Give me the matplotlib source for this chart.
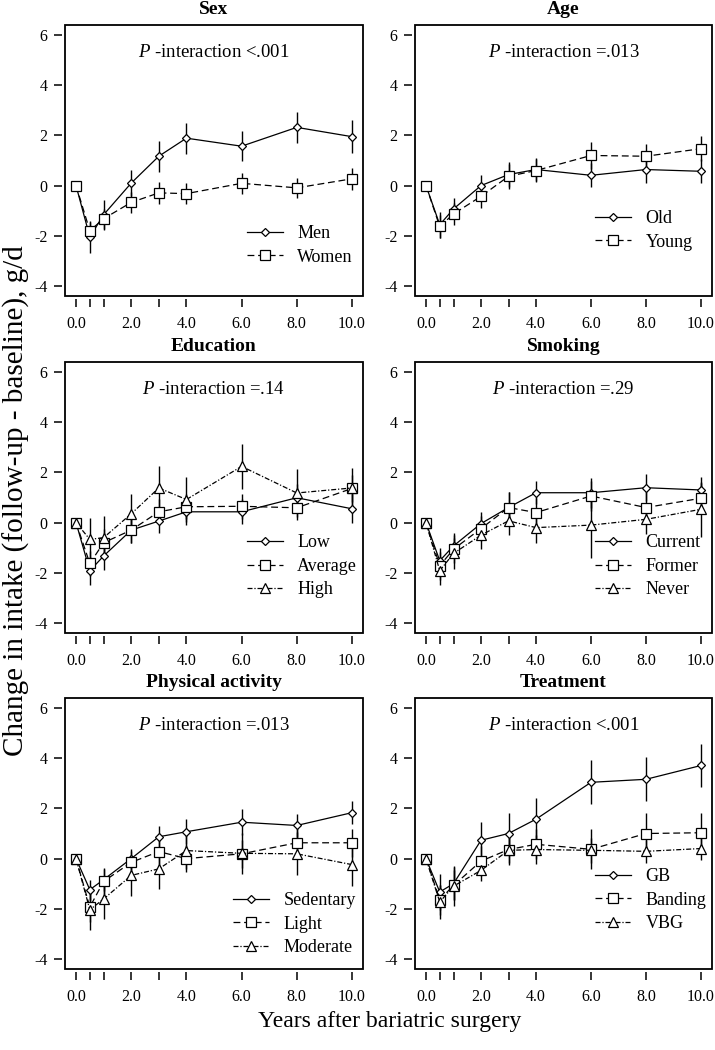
import matplotlib
matplotlib.use("Agg")
import matplotlib.pyplot as plt
from matplotlib.patches import Rectangle

# fonts - Times-like look
plt.rcParams['font.family'] = ['Liberation Serif', 'DejaVu Serif']
plt.rcParams['mathtext.fontset'] = 'custom'
plt.rcParams['mathtext.rm'] = 'Liberation Serif'
plt.rcParams['mathtext.it'] = 'Liberation Serif:italic'

# ---- data ----
years = [0, 0.5, 1, 2, 3, 4, 6, 8, 10]
tick_pos = [0, 0.5, 1, 2, 3, 4, 6, 8, 10]
tick_lab = ['0.0', '', '', '2.0', '', '4.0', '6.0', '8.0', '10.0']

sex_men = [0, -2.05, -1.16, 0.10, 1.17, 1.89, 1.57, 2.32, 1.95]
sex_men_err = [0, 0.64, 0.6, 0.53, 0.62, 0.62, 0.6, 0.63, 0.65]
sex_women = [0, -1.80, -1.32, -0.67, -0.29, -0.32, 0.09, -0.09, 0.27]
sex_women_err = [0, 0.35, 0.4, 0.42, 0.43, 0.42, 0.43, 0.41, 0.43]

age_old = [0, -1.56, -0.93, 0.0, 0.44, 0.64, 0.41, 0.64, 0.57]
age_old_err = [0, 0.52, 0.42, 0.42, 0.5, 0.45, 0.48, 0.52, 0.47]
age_young = [0, -1.63, -1.13, -0.43, 0.37, 0.60, 1.20, 1.17, 1.47]
age_young_err = [0, 0.47, 0.43, 0.45, 0.5, 0.44, 0.55, 0.5, 0.5]

edu_low = [0, -1.92, -1.33, -0.30, 0.06, 0.43, 0.43, 0.99, 0.55]
edu_low_err = [0, 0.55, 0.55, 0.5, 0.46, 0.53, 0.5, 0.55, 0.58]
edu_avg = [0, -1.63, -0.80, -0.30, 0.43, 0.63, 0.65, 0.59, 1.36]
edu_avg_err = [0, 0.5, 0.55, 0.5, 0.5, 0.5, 0.5, 0.5, 0.55]
edu_high = [0, -0.67, -0.60, 0.35, 1.38, 0.92, 2.24, 1.18, 1.38]
edu_high_err = [0, 0.85, 0.85, 0.8, 0.87, 0.9, 0.9, 0.95, 0.8]

smk_current = [0, -1.52, -0.93, -0.04, 0.60, 1.19, 1.19, 1.39, 1.30]
smk_current_err = [0, 0.5, 0.5, 0.45, 0.63, 0.46, 0.6, 0.53, 0.5]
smk_former = [0, -1.72, -1.06, -0.24, 0.60, 0.40, 1.06, 0.60, 0.97]
smk_former_err = [0, 0.55, 0.55, 0.5, 0.6, 0.6, 0.6, 0.6, 0.6]
smk_never = [0, -1.92, -1.23, -0.50, 0.07, -0.20, -0.10, 0.13, 0.53]
smk_never_err = [0, 0.55, 0.6, 0.55, 0.57, 0.6, 1.3, 0.6, 1.1]

pa_sed = [0, -1.24, -0.84, 0.0, 0.87, 1.07, 1.45, 1.32, 1.83]
pa_sed_err = [0, 0.4, 0.45, 0.4, 0.42, 0.49, 0.51, 0.44, 0.46]
pa_light = [0, -1.93, -0.91, -0.15, 0.28, 0.0, 0.19, 0.63, 0.63]
pa_light_err = [0, 0.6, 0.5, 0.45, 0.5, 0.55, 0.55, 0.55, 0.55]
pa_mod = [0, -2.04, -1.61, -0.67, -0.41, 0.32, 0.21, 0.19, -0.24]
pa_mod_err = [0, 0.8, 0.8, 0.81, 0.8, 0.75, 0.81, 0.86, 0.84]

trt_gb = [0, -1.33, -1.0, 0.73, 1.0, 1.57, 3.04, 3.16, 3.71]
trt_gb_err = [0, 0.73, 0.67, 0.74, 0.8, 0.83, 0.87, 0.87, 0.87]
trt_band = [0, -1.64, -1.07, -0.10, 0.36, 0.57, 0.37, 1.00, 1.03]
trt_band_err = [0, 0.6, 0.6, 0.6, 0.6, 0.6, 0.8, 0.83, 0.8]
trt_vbg = [0, -1.73, -1.10, -0.47, 0.33, 0.36, 0.33, 0.29, 0.40]
trt_vbg_err = [0, 0.67, 0.8, 0.42, 0.5, 0.59, 0.5, 0.45, 0.44]

# one entry per panel: title, p-text, groups, legend anchor (x, y of first entry)
panels = [
    ('Sex', '<.001', [('Men', sex_men, sex_men_err), ('Women', sex_women, sex_women_err)], (6.18, -1.96)),
    ('Age', '=.013', [('Old', age_old, age_old_err), ('Young', age_young, age_young_err)], (6.15, -1.36)),
    ('Education', '=.14', [('Low', edu_low, edu_low_err), ('Average', edu_avg, edu_avg_err),
                           ('High', edu_high, edu_high_err)], (6.18, -0.85)),
    ('Smoking', '=.29', [('Current', smk_current, smk_current_err), ('Former', smk_former, smk_former_err),
                         ('Never', smk_never, smk_never_err)], (6.15, -0.85)),
    ('Physical activity', '=.013', [('Sedentary', pa_sed, pa_sed_err), ('Light', pa_light, pa_light_err),
                                    ('Moderate', pa_mod, pa_mod_err)], (5.68, -1.72)),
    ('Treatment', '<.001', [('GB', trt_gb, trt_gb_err), ('Banding', trt_band, trt_band_err),
                            ('VBG', trt_vbg, trt_vbg_err)], (6.15, -0.76)),
]

styles = [('D', 3.6, '-'), ('s', 7.0, (0, (5.5, 3))), ('^', 7.5, (0, (4, 1.5, 1, 1.5)))]

fig = plt.figure(figsize=(7.15, 10.5), dpi=100)
W, H = 715.0, 1050.0
cols = [(65, 363), (415, 712)]
rows = [(25, 296), (362, 633), (698, 969)]

for i, (title, ptxt, groups, leg) in enumerate(panels):
    c0, c1 = cols[i % 2]
    r0, r1 = rows[i // 2]
    ax = fig.add_axes([c0 / W, 1 - r1 / H, (c1 - c0) / W, (r1 - r0) / H])

    for j, (name, vals, errs) in enumerate(groups):
        mk, ms, ls = styles[j]
        ax.errorbar(years, vals, yerr=errs, fmt='none', ecolor='black', elinewidth=1.0, capsize=0, zorder=2)
        ax.plot(years, vals, color='black', lw=0.9, linestyle=ls, marker=mk, markersize=ms,
                mfc='white', mec='black', mew=0.9, label=name, zorder=3)

    ax.set_xlim(-0.4, 10.4)
    ax.set_ylim(-4.4, 6.4)
    ax.set_xticks(tick_pos)
    ax.set_xticklabels(tick_lab)
    ax.set_yticks([-4, -2, 0, 2, 4, 6])
    ax.set_yticklabels(['-4', '-2', '0', '2', '4', '6'])
    for s in ax.spines.values():
        s.set_visible(False)
    ax.spines['bottom'].set_position(('outward', 2))
    ax.spines['left'].set_position(('outward', 2))
    ax.add_patch(Rectangle((0, 0), 1, 1, transform=ax.transAxes, fill=False, lw=1.3,
                           ec='black', clip_on=False, zorder=5))
    ax.tick_params(direction='out', length=5.5, width=1.1, labelsize=11.5)
    ax.tick_params(axis='x', pad=7)
    ax.tick_params(axis='y', pad=5)

    ax.set_title(title, fontsize=14, fontweight='bold', pad=8)
    ax.text(5, 5.3, r'$\it{P}$ -interaction ' + ptxt, ha='center', va='center', fontsize=13.5)

    ax.legend(loc='upper left', bbox_to_anchor=(leg[0], leg[1] + 0.38), bbox_transform=ax.transData,
              frameon=False, fontsize=13, handlelength=2.0, handletextpad=0.8, labelspacing=0.36,
              borderpad=0, borderaxespad=0)

fig.text(16 / W, 1 - 501 / H, 'Change in intake (follow-up - baseline), g/d', rotation=90,
         ha='center', va='center', fontsize=21)
fig.text(390 / W, 1 - 1022 / H, 'Years after bariatric surgery', ha='center', va='center', fontsize=17)

fig.savefig('out.png', dpi=100)
